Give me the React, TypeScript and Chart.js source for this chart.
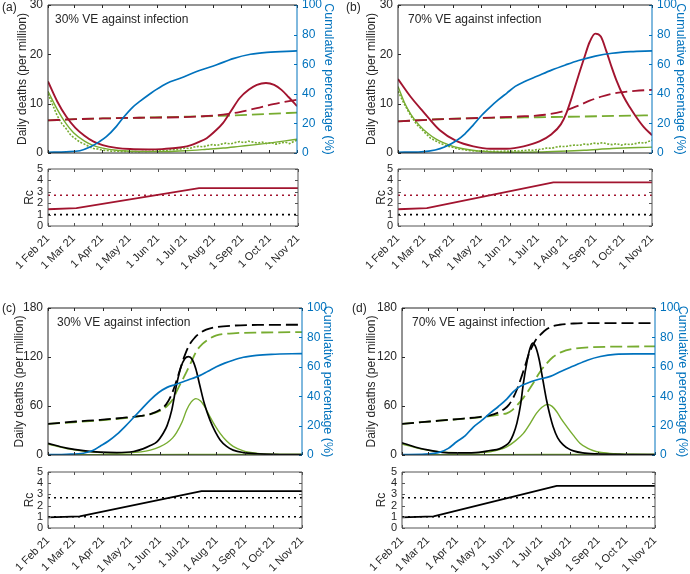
import React, { useEffect, useRef } from 'react';
import { Chart, registerables } from 'chart.js';

Chart.register(...registerables);

const FONT_FAMILY = '"Liberation Sans", Arial, Helvetica, sans-serif';
const RED = '#A2142F';
const GREEN = '#77AC30';
const BLUE = '#0072BD';
const BLACK = '#000000';
const AXIS = '#262626';
const RC_BOX = '#555555';

// ---- axes / ticks ----
const MONTH_DAYS = [0, 28, 59, 89, 120, 150, 181, 212, 242, 273];
const MONTH_LABELS = ['1 Feb 21', '1 Mar 21', '1 Apr 21', '1 May 21', '1 Jun 21', '1 Jul 21', '1 Aug 21', '1 Sep 21', '1 Oct 21', '1 Nov 21'];
const DEATH_TICKS_LOW = [0, 10, 20, 30];
const DEATH_TICKS_HIGH = [0, 60, 120, 180];
const PCT_TICKS = [0, 20, 40, 60, 80, 100];
const RC_TICKS = [0, 1, 2, 3, 4, 5];
const RC_CRITICAL = 2.7;
const RC_ONE = 1;
const FULL_RANGE = [0, 273];

// ---- panel (a) ----
const A_RED_DAYS = [0, 10, 20, 30, 40, 50, 60, 75, 90, 110, 125, 140, 155, 165, 174, 183, 192, 201, 210, 220, 229, 239, 248, 256, 264, 273];
const A_RED = [14.5, 10.5, 7.4, 5.1, 3.5, 2.3, 1.6, 1.05, 0.8, 0.72, 0.78, 1.0, 1.5, 2.2, 3.0, 4.4, 6.1, 8.6, 11.1, 12.8, 13.8, 14.2, 13.8, 12.8, 11.3, 9.5];
const A_RED_DASH_DAYS = [0, 30, 60, 100, 145, 170, 192, 210, 229, 247, 273];
const A_RED_DASH = [6.6, 6.85, 7.0, 7.15, 7.25, 7.45, 7.8, 8.3, 9.1, 9.9, 10.8];
const A_GREEN_DASH_DAYS = [0, 30, 60, 100, 150, 200, 240, 273];
const A_GREEN_DASH = [6.6, 6.85, 7.0, 7.15, 7.35, 7.6, 7.9, 8.2];
const A_GREEN_DAYS = [0, 10, 20, 28, 40, 50, 60, 75, 90, 110, 130, 150, 174, 192, 210, 228, 246, 260, 273];
const A_GREEN = [12.5, 8.9, 5.9, 4.1, 2.4, 1.5, 1.0, 0.55, 0.35, 0.28, 0.3, 0.45, 0.75, 1.0, 1.35, 1.7, 2.1, 2.45, 2.8];
const DATA_DAYS = [0, 5, 10, 15, 20, 25, 30, 35, 40, 45, 50, 55, 60, 65, 70, 75, 80, 85, 90, 95, 100, 105, 110, 115, 120, 125, 130, 135, 140, 145, 150, 155, 160, 165, 170, 175, 180, 185, 190, 195, 200, 205, 210, 215, 220, 225, 230, 235, 240, 245, 250, 255, 260, 265, 270, 273];
const A_DATA = [12.0, 9.8, 7.6, 6.0, 4.9, 3.6, 2.9, 2.2, 1.8, 1.3, 0.9, 0.8, 0.55, 0.5, 0.35, 0.4, 0.3, 0.35, 0.25, 0.3, 0.25, 0.35, 0.3, 0.4, 0.35, 0.5, 0.45, 0.7, 0.65, 0.8, 1.0, 0.9, 1.2, 1.35, 1.25, 1.5, 1.7, 1.55, 1.8, 2.0, 1.85, 2.1, 2.3, 2.1, 2.4, 2.2, 2.0, 2.2, 1.9, 2.1, 1.8, 2.0, 2.2, 1.9, 2.4, 2.6];
const A_BLUE_DAYS = [0, 20, 35, 46, 56, 64, 75, 82, 93, 101, 112, 119, 130, 145, 166, 185, 203, 222, 240, 273];
const A_BLUE = [0.5, 0.8, 1.5, 4.0, 7.5, 11, 18, 23.5, 31, 35, 40, 43, 47, 50.5, 55.7, 59.6, 63.8, 66.7, 68, 69];
const RC_A_DAYS = [0, 31, 165, 273];
const RC_A = [1.47, 1.56, 3.32, 3.32];

// ---- panel (b) ----
const B_RED_DAYS = [0, 14, 27, 45, 63, 81, 99, 117, 135, 152, 165, 175, 181, 186, 192, 200, 206, 212, 218, 224, 230, 235, 242, 249, 256, 264, 273];
const B_RED = [15.0, 11.3, 8.4, 4.6, 2.4, 1.35, 0.87, 0.87, 1.35, 2.35, 3.8, 5.8, 8.1, 10.8, 14.5, 19.2, 22.5, 24.2, 23.6, 20.6, 17.2, 14.6, 11.6, 9.3, 7.3, 5.3, 3.6];
const B_RED_DASH_DAYS = [0, 40, 86, 130, 158, 176, 194, 206, 218, 230, 242, 255, 273];
const B_RED_DASH = [6.4, 6.8, 7.1, 7.4, 7.75, 8.4, 9.6, 10.6, 11.4, 12.0, 12.35, 12.6, 12.8];
const B_GREEN_DASH_DAYS = [0, 50, 100, 150, 200, 273];
const B_GREEN_DASH = [6.4, 6.9, 7.1, 7.25, 7.4, 7.65];
const B_GREEN_DAYS = [0, 7, 14, 23, 32, 41, 50, 60, 70, 86, 105, 125, 150, 175, 200, 230, 273];
const B_GREEN = [13.5, 10.2, 7.8, 5.6, 4.0, 2.8, 2.0, 1.3, 0.85, 0.4, 0.2, 0.15, 0.2, 0.35, 0.55, 0.9, 1.2];
const B_DATA = [12.5, 10.6, 8.8, 7.2, 5.8, 4.9, 3.9, 3.0, 2.5, 2.0, 1.6, 1.3, 1.1, 0.8, 0.7, 0.55, 0.45, 0.4, 0.35, 0.4, 0.3, 0.35, 0.3, 0.4, 0.35, 0.45, 0.4, 0.5, 0.6, 0.55, 0.7, 0.8, 1.0, 0.95, 1.2, 1.35, 1.3, 1.5, 1.6, 1.55, 1.8, 1.7, 2.0, 1.9, 2.1, 1.85, 1.7, 1.9, 1.6, 1.8, 1.7, 1.9, 2.1, 2.0, 2.4, 2.6];
const B_BLUE_DAYS = [0, 25, 40, 50, 63, 72, 81, 90, 99, 108, 117, 126, 135, 150, 165, 180, 194, 212, 230, 250, 273];
const B_BLUE = [0.5, 0.8, 2, 4, 8.5, 13, 19, 25.5, 31, 36, 40.5, 45, 48, 52, 56, 59.5, 62.5, 65.5, 67.4, 68.5, 69];
const RC_B_DAYS = [0, 31, 167, 273];
const RC_B = [1.47, 1.56, 3.82, 3.82];

// ---- panel (c) ----
const C_BLACK_DAYS = [0, 20, 38, 56, 74, 92, 102, 110, 117, 124, 128, 133, 138, 143, 147, 151, 155, 159, 163, 168, 174, 180, 185, 192, 199, 210, 225, 240, 273];
const C_BLACK = [14.3, 8.5, 5.3, 3.4, 2.9, 4.3, 7.5, 11.5, 16, 27, 36, 55, 85, 108, 118, 120.5, 117, 105, 86, 63, 43, 28, 18.5, 10.5, 6, 3, 1.5, 0.8, 0.4];
const C_GREEN_DAYS = [0, 20, 40, 60, 80, 100, 110, 120, 128, 134, 138, 144, 149, 154, 159, 164, 169, 174, 180, 185, 192, 199, 210, 225, 240, 273];
const C_GREEN = [13.5, 8, 4.5, 2.8, 2.5, 3.8, 6, 10, 15, 21, 27, 40, 55, 65, 69, 66, 58, 47, 35, 26.5, 17, 10.5, 5, 2, 1, 0.6];
const C_BLACK_DASH_DAYS = [0, 30, 56, 80, 100, 110, 120, 127, 132, 137, 142, 147, 152, 158, 163, 170, 180, 200, 230, 273];
const C_BLACK_DASH = [38, 41, 43, 45.5, 48, 50, 55, 62, 72, 87, 105, 122, 135, 144, 149, 153.5, 156.5, 158.5, 159.3, 159.5];
const C_GREEN_DASH_DAYS = [0, 56, 92, 113, 122, 128, 134, 140, 145, 149, 154, 160, 166, 173, 181, 199, 230, 273];
const C_GREEN_DASH = [38, 42.5, 46.5, 51, 55, 60, 68, 82, 93, 102, 114, 128, 136, 142, 146.5, 149, 150, 150.5];
const C_BLUE_DAYS = [0, 20, 38, 48, 56, 65, 74, 83, 92, 101, 110, 119, 128, 137, 146, 155, 163, 172, 181, 190, 199, 210, 224, 240, 273];
const C_BLUE = [0.3, 0.5, 1.2, 3, 6, 9.5, 14, 19.5, 25.5, 31.5, 37.5, 42.5, 46, 48, 50, 52, 54, 57, 60, 62.5, 64.5, 66.5, 67.8, 68.5, 69];
const FLAT_DAYS = [0, 90, 180, 273];
const C_FLAT = [0.5, 0.4, 0.6, 0.8];
const RC_C_DAYS = [0, 34, 165, 273];
const RC_C = [0.94, 1.03, 3.29, 3.29];

// ---- panel (d) ----
const D_BLACK_DAYS = [0, 15, 29, 47, 65, 83, 95, 105, 111, 116, 120, 124, 128, 131, 135, 138, 141, 144, 148, 152, 156, 160, 163, 168, 174, 180, 185, 195, 210, 240, 273];
const D_BLACK = [15, 9.5, 6, 3, 2.5, 3.3, 5.5, 7.5, 11, 16, 25, 39, 62, 88, 115, 130, 137, 133, 117, 92, 67, 47, 35, 21, 12.5, 7.5, 5, 2.5, 1.3, 0.6, 0.4];
const D_GREEN_DAYS = [0, 20, 40, 60, 80, 95, 105, 113, 122, 131, 139, 145, 151, 157, 162, 167, 172, 178, 185, 192, 200, 206, 215, 230, 250, 273];
const D_GREEN = [13.5, 7.5, 4, 2.8, 2.7, 4, 6.5, 10, 17, 26.5, 40, 51, 58.5, 62, 59.5, 53, 44, 34.5, 24, 14.5, 8.5, 5.5, 3, 1.5, 0.9, 0.6];
const D_BLACK_DASH_DAYS = [0, 30, 60, 83, 95, 104, 110, 115, 120, 125, 129, 133, 137, 141, 145, 150, 156, 162, 170, 185, 210, 273];
const D_BLACK_DASH = [38, 41, 44, 46.5, 48.5, 52, 56, 61, 70, 83, 96, 110, 124, 134, 142, 148, 154, 157.5, 159.5, 161, 161.5, 161.5];
const D_GREEN_DASH_DAYS = [0, 40, 83, 100, 108, 113, 119, 125, 131, 140, 149, 156, 163, 172, 185, 205, 273];
const D_GREEN_DASH = [38, 42, 46, 48.5, 50, 51, 55, 62, 70, 85, 102, 112, 120, 126, 130, 132, 133];
const D_BLUE_DAYS = [0, 25, 41, 50, 59, 68, 77, 86, 95, 104, 113, 120, 127, 135, 145, 160, 172, 185, 200, 214, 230, 250, 273];
const D_BLUE = [0.3, 0.6, 2, 4.5, 9, 13, 19, 23.5, 28.5, 33, 38, 43, 46.5, 48.8, 51, 53.5, 57, 60.5, 64.5, 67, 68.5, 68.8, 68.8];
const D_FLAT = [0.5, 0.4, 0.6, 0.8];
const RC_D_DAYS = [0, 34, 167, 273];
const RC_D = [0.94, 1.03, 3.76, 3.76];

// ---------------------------------------------------------------
const pts = (days: number[], vals: number[]) => days.map((d, i) => ({ x: d, y: vals[i] }));
const fixTicks = (vals: number[]) => (s: any) => {
  s.ticks = vals.map((v) => ({ value: v }));
};
const zeroPad = (s: any) => {
  s.paddingTop = 0;
  s.paddingBottom = 0;
  s.paddingLeft = 0;
  s.paddingRight = 0;
};

function line(days: number[], vals: number[], color: string, width: number, opts: any = {}) {
  return {
    data: pts(days, vals),
    borderColor: color,
    borderWidth: width,
    borderDash: opts.dash || [],
    yAxisID: opts.axis || 'y',
    pointRadius: 0,
    fill: false,
    tension: 0,
    cubicInterpolationMode: opts.smooth === false ? 'default' : 'monotone',
    borderCapStyle: 'butt',
    borderJoinStyle: 'round',
  };
}

const framePlugin = {
  id: 'frame',
  afterDatasetsDraw(chart: any, _args: any, opts: any) {
    const { ctx, chartArea } = chart;
    const { left, right, top, bottom } = chartArea;
    const tl = opts.tickLen || 3;
    ctx.save();
    ctx.lineWidth = 1;
    const seg = (x1: number, y1: number, x2: number, y2: number, c: string) => {
      ctx.strokeStyle = c;
      ctx.beginPath();
      ctx.moveTo(x1, y1);
      ctx.lineTo(x2, y2);
      ctx.stroke();
    };
    const xs = chart.scales.x;
    xs.ticks.forEach((t: any) => {
      const px = Math.round(xs.getPixelForValue(t.value)) + 0.5;
      seg(px, bottom, px, bottom - tl, opts.color);
      seg(px, top, px, top + tl, opts.color);
    });
    const ys = chart.scales.y;
    ys.ticks.forEach((t: any) => {
      const py = Math.round(ys.getPixelForValue(t.value)) + 0.5;
      seg(left, py, left + tl, py, opts.color);
      if (opts.mirrorY) seg(right, py, right - tl, py, opts.color);
    });
    const y1 = chart.scales.y1;
    if (y1) {
      y1.ticks.forEach((t: any) => {
        const py = Math.round(y1.getPixelForValue(t.value)) + 0.5;
        seg(right, py, right - tl, py, opts.rightColor);
      });
    }
    seg(left, top, right, top, opts.color);
    seg(left, bottom, right, bottom, opts.color);
    seg(left, top, left, bottom, opts.color);
    seg(right, top, right, bottom, opts.rightColor);
    ctx.restore();
  },
};

function mainConfig(p: any) {
  const tickFont = { family: FONT_FAMILY, size: 12 };
  const titleFont = { family: FONT_FAMILY, size: 12 };
  return {
    type: 'line',
    data: { datasets: p.datasets },
    options: {
      responsive: false,
      animation: false,
      devicePixelRatio: 1,
      events: [],
      layout: { padding: { top: p.padTop, bottom: p.padBottom, left: 0, right: 0 } },
      plugins: {
        legend: { display: false },
        tooltip: { enabled: false },
        frame: { color: AXIS, rightColor: BLUE, tickLen: 3 },
      },
      scales: {
        x: {
          type: 'linear',
          min: 0,
          max: 273,
          ticks: { display: false },
          grid: { display: false, drawTicks: false },
          border: { display: false },
          afterBuildTicks: fixTicks(MONTH_DAYS),
          afterFit: (s: any) => {
            s.height = 0;
            zeroPad(s);
          },
        },
        y: {
          type: 'linear',
          position: 'left',
          min: 0,
          max: p.yMax,
          ticks: { font: tickFont, color: AXIS, padding: 5, autoSkip: false },
          grid: { display: false, drawTicks: false },
          border: { display: false },
          title: {
            display: true,
            text: 'Daily deaths (per million)',
            font: titleFont,
            color: AXIS,
            padding: { top: p.leftTitlePad, bottom: 0 },
          },
          afterBuildTicks: fixTicks(p.yTicks),
          afterFit: (s: any) => {
            s.width = p.leftW;
            zeroPad(s);
          },
        },
        y1: {
          type: 'linear',
          position: 'right',
          min: 0,
          max: 100,
          ticks: { font: tickFont, color: BLUE, padding: 5, autoSkip: false },
          grid: { display: false, drawTicks: false },
          border: { display: false },
          title: {
            display: true,
            text: 'Cumulative percentage (%)',
            font: { family: FONT_FAMILY, size: 12.5 },
            color: BLUE,
            padding: { top: p.rightTitlePad, bottom: 0 },
          },
          afterBuildTicks: fixTicks(PCT_TICKS),
          afterFit: (s: any) => {
            s.width = p.rightW;
            zeroPad(s);
          },
        },
      },
    },
    plugins: [framePlugin],
  };
}

function rcConfig(p: any) {
  const tickFont = { family: FONT_FAMILY, size: 11 };
  return {
    type: 'line',
    data: {
      datasets: [
        line(p.days, p.vals, p.color, 1.8, { smooth: false }),
        line(FULL_RANGE, [RC_CRITICAL, RC_CRITICAL], p.critColor, 1.6, { smooth: false, dash: [2, 4] }),
        line(FULL_RANGE, [RC_ONE, RC_ONE], BLACK, 1.6, { smooth: false, dash: [2, 4] }),
      ],
    },
    options: {
      responsive: false,
      animation: false,
      devicePixelRatio: 1,
      events: [],
      layout: { padding: { top: p.padTop, bottom: 0, left: 0, right: p.padRight } },
      plugins: {
        legend: { display: false },
        tooltip: { enabled: false },
        frame: { color: RC_BOX, rightColor: RC_BOX, tickLen: 3, mirrorY: true },
      },
      scales: {
        x: {
          type: 'linear',
          min: 0,
          max: 273,
          ticks: {
            font: tickFont,
            color: AXIS,
            padding: 6,
            autoSkip: false,
            maxRotation: 45,
            minRotation: 45,
            callback: (v: number) => {
              const i = MONTH_DAYS.indexOf(v);
              return i >= 0 ? MONTH_LABELS[i] : '';
            },
          },
          grid: { display: false, drawTicks: false },
          border: { display: false },
          afterBuildTicks: fixTicks(MONTH_DAYS),
          afterFit: (s: any) => {
            s.height = p.xH;
            zeroPad(s);
          },
        },
        y: {
          type: 'linear',
          position: 'left',
          min: 0,
          max: 5,
          ticks: { font: tickFont, color: AXIS, padding: 5, autoSkip: false },
          grid: { display: false, drawTicks: false },
          border: { display: false },
          title: {
            display: true,
            text: 'Rc',
            font: { family: FONT_FAMILY, size: 12 },
            color: AXIS,
            padding: { top: p.titlePad, bottom: 0 },
          },
          afterBuildTicks: fixTicks(RC_TICKS),
          afterFit: (s: any) => {
            s.width = p.leftW;
            zeroPad(s);
          },
        },
      },
    },
    plugins: [framePlugin],
  };
}

const CHARTS: any[] = [
  {
    left: 0, top: 0, w: 345, h: 160,
    config: () =>
      mainConfig({
        padTop: 5, padBottom: 7, leftW: 48, rightW: 48, yMax: 30, yTicks: DEATH_TICKS_LOW, leftTitlePad: 15, rightTitlePad: 9,
        datasets: [
          line(A_BLUE_DAYS, A_BLUE, BLUE, 1.7, { axis: 'y1' }),
          line(A_RED_DAYS, A_RED, RED, 1.9),
          line(A_RED_DASH_DAYS, A_RED_DASH, RED, 1.8, { dash: [12, 5] }),
          line(A_GREEN_DASH_DAYS, A_GREEN_DASH, GREEN, 1.8, { dash: [12, 5] }),
          line(A_GREEN_DAYS, A_GREEN, GREEN, 1.4),
          line(DATA_DAYS, A_DATA, GREEN, 1.6, { smooth: false, dash: [2, 1.5] }),
        ],
      }),
  },
  {
    left: 0, top: 160, w: 345, h: 120,
    config: () => rcConfig({ days: RC_A_DAYS, vals: RC_A, color: RED, critColor: RED, padTop: 9, xH: 54, leftW: 48, padRight: 47, titlePad: 22 }),
  },
  {
    left: 345, top: 0, w: 345, h: 160,
    config: () =>
      mainConfig({
        padTop: 5, padBottom: 7, leftW: 53, rightW: 38, yMax: 30, yTicks: DEATH_TICKS_LOW, leftTitlePad: 19, rightTitlePad: 2,
        datasets: [
          line(B_BLUE_DAYS, B_BLUE, BLUE, 1.7, { axis: 'y1' }),
          line(B_RED_DAYS, B_RED, RED, 1.9),
          line(B_RED_DASH_DAYS, B_RED_DASH, RED, 1.8, { dash: [12, 5] }),
          line(B_GREEN_DASH_DAYS, B_GREEN_DASH, GREEN, 1.8, { dash: [12, 5] }),
          line(B_GREEN_DAYS, B_GREEN, GREEN, 1.4),
          line(DATA_DAYS, B_DATA, GREEN, 1.6, { smooth: false, dash: [2, 1.5] }),
        ],
      }),
  },
  {
    left: 345, top: 160, w: 345, h: 120,
    config: () => rcConfig({ days: RC_B_DAYS, vals: RC_B, color: RED, critColor: RED, padTop: 9, xH: 54, leftW: 53, padRight: 38, titlePad: 29 }),
  },
  {
    left: 0, top: 290, w: 345, h: 172,
    config: () =>
      mainConfig({
        padTop: 18, padBottom: 7, leftW: 48, rightW: 43, yMax: 180, yTicks: DEATH_TICKS_HIGH, leftTitlePad: 12, rightTitlePad: 10,
        datasets: [
          line(C_BLUE_DAYS, C_BLUE, BLUE, 1.7, { axis: 'y1' }),
          line(C_BLACK_DAYS, C_BLACK, BLACK, 1.7),
          line(C_BLACK_DASH_DAYS, C_BLACK_DASH, BLACK, 1.8, { dash: [12, 5] }),
          line(C_GREEN_DASH_DAYS, C_GREEN_DASH, GREEN, 1.8, { dash: [12, 5] }),
          line(C_GREEN_DAYS, C_GREEN, GREEN, 1.4),
          line(FLAT_DAYS, C_FLAT, GREEN, 1.4),
        ],
      }),
  },
  {
    left: 0, top: 463, w: 345, h: 111,
    config: () => rcConfig({ days: RC_C_DAYS, vals: RC_C, color: BLACK, critColor: BLACK, padTop: 9, xH: 46, leftW: 48, padRight: 43, titlePad: 22 }),
  },
  {
    left: 345, top: 290, w: 345, h: 172,
    config: () =>
      mainConfig({
        padTop: 18, padBottom: 7, leftW: 57, rightW: 35, yMax: 180, yTicks: DEATH_TICKS_HIGH, leftTitlePad: 19, rightTitlePad: 0,
        datasets: [
          line(D_BLUE_DAYS, D_BLUE, BLUE, 1.7, { axis: 'y1' }),
          line(D_BLACK_DAYS, D_BLACK, BLACK, 1.7),
          line(D_BLACK_DASH_DAYS, D_BLACK_DASH, BLACK, 1.8, { dash: [12, 5] }),
          line(D_GREEN_DASH_DAYS, D_GREEN_DASH, GREEN, 1.8, { dash: [12, 5] }),
          line(D_GREEN_DAYS, D_GREEN, GREEN, 1.4),
          line(FLAT_DAYS, D_FLAT, GREEN, 1.4),
        ],
      }),
  },
  {
    left: 345, top: 463, w: 345, h: 111,
    config: () => rcConfig({ days: RC_D_DAYS, vals: RC_D, color: BLACK, critColor: BLACK, padTop: 9, xH: 46, leftW: 57, padRight: 35, titlePad: 29 }),
  },
];

const LABELS = [
  { text: '(a)', left: 2, top: 0 },
  { text: '(b)', left: 346, top: 0 },
  { text: '(c)', left: 2, top: 301 },
  { text: '(d)', left: 352, top: 301 },
  { text: '30% VE against infection', left: 55, top: 12 },
  { text: '70% VE against infection', left: 408, top: 12 },
  { text: '30% VE against infection', left: 57, top: 315 },
  { text: '70% VE against infection', left: 412, top: 315 },
];

function ChartCanvas({ spec }: { spec: any }) {
  const ref = useRef<HTMLCanvasElement>(null);
  useEffect(() => {
    const chart = new Chart(ref.current as HTMLCanvasElement, spec.config());
    return () => chart.destroy();
  }, []);
  return (
    <canvas
      ref={ref}
      width={spec.w}
      height={spec.h}
      style={{ position: 'absolute', left: spec.left, top: spec.top, width: spec.w, height: spec.h }}
    />
  );
}

export default function App() {
  return (
    <div style={{ position: 'absolute', left: 0, top: 0, width: 690, height: 574, background: '#ffffff', overflow: 'hidden' }}>
      {CHARTS.map((c, i) => (
        <ChartCanvas key={i} spec={c} />
      ))}
      {LABELS.map((l, i) => (
        <div
          key={'l' + i}
          style={{
            position: 'absolute',
            left: l.left,
            top: l.top,
            font: `12px ${FONT_FAMILY}`,
            lineHeight: '14px',
            color: AXIS,
            whiteSpace: 'nowrap',
          }}
        >
          {l.text}
        </div>
      ))}
    </div>
  );
}
